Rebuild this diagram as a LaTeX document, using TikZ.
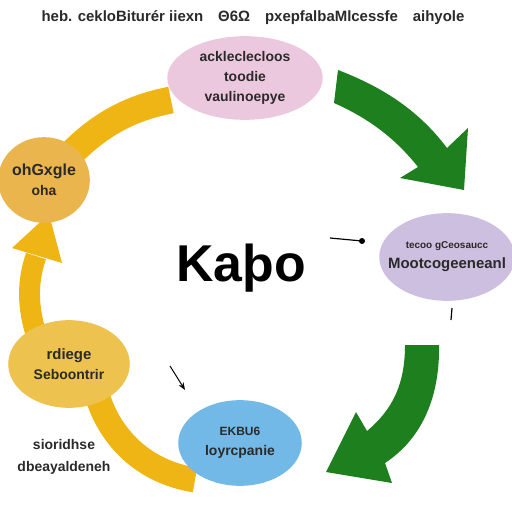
\documentclass[tikz,border=0pt]{standalone}
\usepackage{fontspec}
\setmainfont{Liberation Sans}
\usetikzlibrary{shapes.geometric,arrows.meta}
\definecolor{pinkE}{HTML}{ECC8DF}
\definecolor{orangeE}{HTML}{E9B54C}
\definecolor{purpleE}{HTML}{CDBFDF}
\definecolor{yellowE}{HTML}{EEC24F}
\definecolor{blueE}{HTML}{72B9E8}
\definecolor{greenA}{HTML}{1E7F1E}
\definecolor{yellowA}{HTML}{EFB514}
\definecolor{txt}{HTML}{2A2A2A}
\begin{document}
\begin{tikzpicture}[x=1bp,y=-1bp,
  bubble/.style={ellipse, inner sep=0pt, font=\bfseries\fontsize{14}{20}\selectfont, text=txt, align=center},
  band/.style={line width=#1, color=yellowA},
  lbl/.style={font=\bfseries\fontsize{14}{22}\selectfont, text=txt, align=center}]
\useasboundingbox (0,0) rectangle (512,512);
\fill[white] (0,0) rectangle (512,512);
% yellow bands
\draw[band=27] (171,100) .. controls (130,108) and (95,125) .. (58,168);
\draw[band=21] (38,340) .. controls (26,305) and (28,280) .. (36,256);
\fill[yellowA] (12,248) -- (49,214) -- (62,263) -- cycle;
\draw[band=25] (98,398) .. controls (112,440) and (145,472) .. (195,480);
% green arrows
\fill[greenA] (338,70) .. controls (385,88) and (420,112) .. (447,148)
  -- (468,128) -- (464,190) -- (400,178) -- (418,167)
  .. controls (395,138) and (368,118) .. (334,103) -- cycle;
\fill[greenA] (405,345) .. controls (405,385) and (392,410) .. (367,431)
  -- (356,412) -- (326,472) -- (392,483) -- (385,463)
  .. controls (420,440) and (440,400) .. (439,345) -- cycle;
% ellipses
\node[bubble, fill=pinkE, minimum width=156, minimum height=84] (pink) at (245,78) {ackleclecloos\\toodie\\vaulinoepye};
\node[bubble, fill=orangeE, minimum width=92, minimum height=86] (orange) at (44,180) {\fontsize{16}{23}\selectfont ohGxgle\\oha};
\node[bubble, fill=purpleE, minimum width=136, minimum height=88] (purple) at (447,257) {};
\node[bubble] (purpletext) at (purple.center) {\fontsize{10}{20}\selectfont tecoo gCeosaucc\\\fontsize{15}{17}\selectfont Mootcogeeneanl};
\node[bubble, fill=yellowE, minimum width=122, minimum height=88] (yellow) at (69,364) {\fontsize{15}{28}\selectfont rdiege\\Seboontrir};
\node[bubble, fill=blueE, minimum width=124, minimum height=86] (blue) at (240,443) {\fontsize{12}{20}\selectfont EKBU6\\\fontsize{14}{16}\selectfont loyrcpanie};
% texts
\node[font=\bfseries\fontsize{15}{17}\selectfont, text=txt] (title) at (253,18) {heb. cekloBiturér iiexn\quad Θ6Ω\quad pxepfalbaMlcessfe\quad aihyole};
\node[font=\bfseries\fontsize{52}{56}\selectfont] (center) at (241,268) {Kaþo};
\node[lbl] (note) at (64,457) {sioridhse\\dbeayaldeneh};
% small marks
\coordinate (m1) at (330,238);
\coordinate (m2) at (362,241);
\draw[line width=1.2pt] (m1) -- (m2);
\fill (m2) circle (3);
\coordinate (s1) at (170,366);
\coordinate (s2) at (185,390);
\draw[line width=1pt,-Stealth] (s1) -- (s2);
\coordinate (t1) at (452,308);
\coordinate (t2) at (451,320);
\draw[line width=1.2pt] (t1) -- (t2);
\end{tikzpicture}
\end{document}
